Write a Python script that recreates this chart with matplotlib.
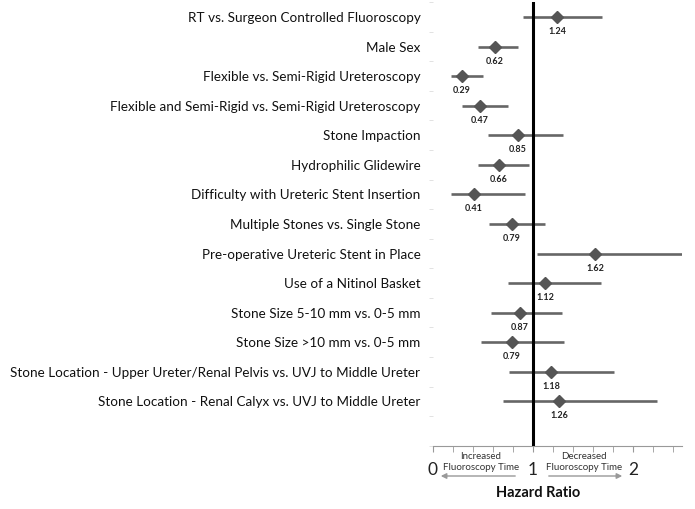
import matplotlib.pyplot as plt
from matplotlib.ticker import MultipleLocator

plt.rcParams['font.family'] = ['Lato', 'DejaVu Sans']

labels = [
    "RT vs. Surgeon Controlled Fluoroscopy",
    "Male Sex",
    "Flexible vs. Semi-Rigid Ureteroscopy",
    "Flexible and Semi-Rigid vs. Semi-Rigid Ureteroscopy",
    "Stone Impaction",
    "Hydrophilic Glidewire",
    "Difficulty with Ureteric Stent Insertion",
    "Multiple Stones vs. Single Stone",
    "Pre-operative Ureteric Stent in Place",
    "Use of a Nitinol Basket",
    "Stone Size 5-10 mm vs. 0-5 mm",
    "Stone Size >10 mm vs. 0-5 mm",
    "Stone Location - Upper Ureter/Renal Pelvis vs. UVJ to Middle Ureter",
    "Stone Location - Renal Calyx vs. UVJ to Middle Ureter",
]
hr = [1.24, 0.62, 0.29, 0.47, 0.85, 0.66, 0.41, 0.79, 1.62, 1.12, 0.87, 0.79, 1.18, 1.26]
ci_low = [0.90, 0.45, 0.18, 0.29, 0.55, 0.45, 0.18, 0.56, 1.04, 0.75, 0.58, 0.48, 0.76, 0.70]
ci_high = [1.69, 0.85, 0.50, 0.75, 1.30, 0.96, 0.92, 1.12, 2.49, 1.68, 1.29, 1.31, 1.81, 2.24]

fig = plt.figure(figsize=(6.95, 5.09), dpi=100)
ax = fig.add_axes([433 / 695, 1 - 445.7 / 509, 249 / 695, 443.5 / 509])

ypos = list(range(len(labels)))
for i in ypos:
    ax.plot([ci_low[i], ci_high[i]], [i, i], color='#666666', lw=1.9, solid_capstyle='butt', zorder=2)
    ax.plot(hr[i], i, marker='D', color='#555555', markersize=6.5, zorder=3)
    ax.annotate("%.2f" % hr[i], (hr[i], i), xytext=(0, -10.5), textcoords='offset points',
                ha='center', va='center', fontsize=6.5, fontweight='bold', color='#222222')

ax.axvline(1, color='black', lw=2.2, zorder=4)

ax.set_xlim(0, 2.49)
ax.set_ylim(len(labels) + 0.5, -0.5)

ax.set_yticks(ypos)
ax.set_yticklabels(labels, fontsize=9.7, color='#111111')
ax.tick_params(axis='y', which='major', length=0, pad=9)
ax.set_yticks([i + 0.5 for i in range(-1, len(labels) + 1)], minor=True)
ax.tick_params(axis='y', which='minor', length=3, color='#dddddd')

ax.set_xticks([0, 1, 2])
ax.set_xticklabels(['0', '1', '2'], fontsize=12.5, color='#222222')
ax.xaxis.set_minor_locator(MultipleLocator(0.2))
ax.tick_params(axis='x', which='both', length=4, color='#999999', pad=8)

for s in ['top', 'right', 'left']:
    ax.spines[s].set_visible(False)
ax.spines['bottom'].set_color('#999999')

fig.text(481 / 695, 1 - 462 / 509, "Increased\nFluoroscopy Time", ha='center', va='center',
         fontsize=7, color='#333333', linespacing=1.3)
fig.text(584 / 695, 1 - 462 / 509, "Decreased\nFluoroscopy Time", ha='center', va='center',
         fontsize=7, color='#333333', linespacing=1.3)
ax.annotate('', xy=(438 / 695, 1 - 476 / 509), xytext=(518 / 695, 1 - 476 / 509),
            xycoords='figure fraction', textcoords='figure fraction',
            arrowprops=dict(arrowstyle='-|>', color='#999999', lw=1, mutation_scale=8))
ax.annotate('', xy=(625 / 695, 1 - 476 / 509), xytext=(546 / 695, 1 - 476 / 509),
            xycoords='figure fraction', textcoords='figure fraction',
            arrowprops=dict(arrowstyle='-|>', color='#999999', lw=1, mutation_scale=8))

fig.text(538 / 695, 1 - 493 / 509, "Hazard Ratio", ha='center', va='center',
         fontsize=10.5, fontweight='bold', color='#111111')

fig.savefig('out.png', dpi=100)
